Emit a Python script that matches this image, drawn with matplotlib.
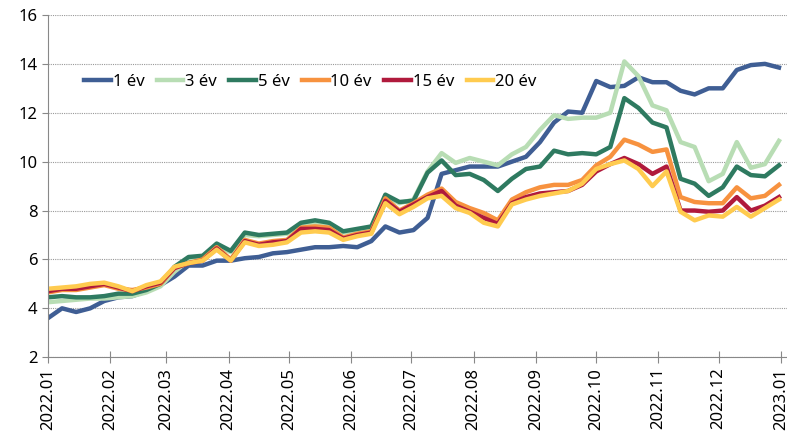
import pandas as pd
import matplotlib.pyplot as plt
import matplotlib.dates as mdates

# weekly readings, 2022-01-01 .. 2022-12-31
dates = pd.date_range("2022-01-01", periods=53, freq="7D")

y1 = [3.6, 4.0, 3.85, 4.0, 4.3, 4.45, 4.5, 4.7, 4.95, 5.3,
      5.75, 5.75, 5.95, 5.95, 6.05, 6.1, 6.25, 6.3, 6.4, 6.5,
      6.5, 6.55, 6.5, 6.75, 7.35, 7.1, 7.2, 7.7, 9.5, 9.65,
      9.8, 9.8, 9.8, 10.0, 10.2, 10.8, 11.6, 12.05, 12.0, 13.3,
      13.05, 13.1, 13.45, 13.25, 13.25, 12.9, 12.75, 13.0, 13.0, 13.75,
      13.95, 14.0, 13.85]
y3 = [4.25, 4.3, 4.35, 4.4, 4.4, 4.45, 4.5, 4.65, 4.9, 5.5,
      5.95, 6.05, 6.5, 6.3, 7.0, 6.95, 7.0, 7.05, 7.4, 7.5,
      7.4, 7.1, 7.2, 7.3, 8.6, 8.3, 8.45, 9.6, 10.35, 9.95,
      10.15, 10.0, 9.85, 10.3, 10.6, 11.3, 11.9, 11.75, 11.8, 11.8,
      12.0, 14.1, 13.5, 12.3, 12.1, 10.8, 10.6, 9.2, 9.5, 10.8,
      9.75, 9.9, 10.85]
y5 = [4.45, 4.5, 4.45, 4.45, 4.5, 4.6, 4.6, 4.75, 5.0, 5.7,
      6.1, 6.15, 6.65, 6.35, 7.1, 7.0, 7.05, 7.1, 7.5, 7.6,
      7.5, 7.15, 7.25, 7.35, 8.65, 8.35, 8.4, 9.55, 10.05, 9.45,
      9.5, 9.25, 8.8, 9.3, 9.7, 9.8, 10.45, 10.3, 10.35, 10.3,
      10.6, 12.6, 12.2, 11.6, 11.4, 9.3, 9.1, 8.6, 8.95, 9.8,
      9.45, 9.4, 9.85]
y10 = [4.65, 4.75, 4.75, 4.85, 4.95, 4.8, 4.75, 4.85, 5.0, 5.65,
       5.85, 6.0, 6.5, 6.0, 6.8, 6.65, 6.75, 6.8, 7.3, 7.35,
       7.3, 6.9, 7.05, 7.15, 8.5, 8.0, 8.3, 8.65, 8.9, 8.35,
       8.1, 7.9, 7.6, 8.45, 8.75, 8.95, 9.05, 9.05, 9.25, 9.85,
       10.2, 10.9, 10.7, 10.4, 10.5, 8.55, 8.35, 8.3, 8.3, 8.95,
       8.5, 8.6, 9.05]
y15 = [4.7, 4.8, 4.8, 4.9, 5.0, 4.85, 4.7, 4.9, 5.05, 5.65,
       5.85, 5.95, 6.45, 5.95, 6.75, 6.6, 6.7, 6.75, 7.25, 7.25,
       7.2, 6.85, 7.0, 7.1, 8.4, 7.95, 8.25, 8.55, 8.8, 8.2,
       7.95, 7.7, 7.45, 8.3, 8.55, 8.7, 8.75, 8.8, 9.05, 9.6,
       9.9, 10.15, 9.9, 9.5, 9.8, 8.0, 8.0, 7.95, 8.0, 8.55,
       8.0, 8.2, 8.55]
y20 = [4.8, 4.85, 4.9, 5.0, 5.05, 4.9, 4.7, 4.95, 5.1, 5.7,
       5.85, 5.95, 6.4, 5.95, 6.7, 6.55, 6.6, 6.7, 7.1, 7.15,
       7.1, 6.8, 6.95, 7.05, 8.3, 7.85, 8.15, 8.5, 8.6, 8.1,
       7.9, 7.5, 7.35, 8.25, 8.45, 8.6, 8.7, 8.8, 9.1, 9.7,
       9.9, 10.05, 9.7, 9.0, 9.6, 7.95, 7.6, 7.8, 7.75, 8.15,
       7.75, 8.1, 8.45]

labels = ["1 év", "3 év", "5 év", "10 év", "15 év", "20 év"]
colors = ["#3F5E94", "#B8DDB4", "#2E7A60", "#F7923F", "#B01A3C", "#FFCB4F"]
series = [y1, y3, y5, y10, y15, y20]

plt.rcParams["font.family"] = ["Noto Sans", "DejaVu Sans"]

fig = plt.figure(figsize=(7.87, 4.41), dpi=100)
ax = fig.add_axes([0.061, 0.19, 0.939, 0.776])

for vals, lab, col in zip(series, labels, colors):
    ax.plot(dates, vals, color=col, lw=3.2, label=lab, solid_joinstyle="round")

ax.set_ylim(2, 16)
ax.set_yticks(range(2, 17, 2))
ax.set_xlim(pd.Timestamp("2022-01-01"), pd.Timestamp("2023-01-04"))
ax.xaxis.set_major_locator(mdates.MonthLocator())
ax.xaxis.set_major_formatter(mdates.DateFormatter("%Y.%m"))
plt.setp(ax.get_xticklabels(), rotation=90)

ax.grid(axis="y", color="#999999", ls=(0, (1, 1)), lw=0.8)
ax.set_axisbelow(True)
for s in ["top", "right"]:
    ax.spines[s].set_visible(False)
for s in ["left", "bottom"]:
    ax.spines[s].set_color("#888888")
ax.tick_params(axis="x", direction="inout", length=8, color="#888888", labelsize=12)
ax.tick_params(axis="y", length=4, color="#888888", labelsize=12)

ax.legend(loc="center left", bbox_to_anchor=(0.04, 0.805), ncol=6, frameon=False,
          fontsize=12, handlelength=1.6, handletextpad=0.1, columnspacing=0.75,
          borderaxespad=0)

fig.savefig("out.png", dpi=100)
